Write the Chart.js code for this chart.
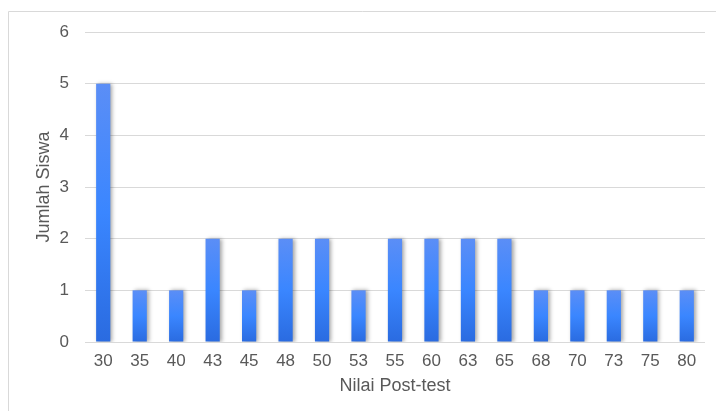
<!DOCTYPE html>
<html>
<head>
<meta charset="utf-8">
<script src="https://cdn.jsdelivr.net/npm/chart.js@4/dist/chart.umd.min.js"></script>
<style>
  html, body { margin: 0; padding: 0; background: #fff; }
  #wrap { width: 716px; height: 411px; position: relative; }
</style>
</head>
<body>
<div id="wrap"><canvas id="c" width="716" height="411"></canvas></div>
<script>
// Post-test score distribution
const categories = ['30','35','40','43','45','48','50','53','55','60','63','65','68','70','73','75','80'];
const jumlahSiswa = [5, 1, 1, 2, 1, 2, 2, 1, 2, 2, 2, 2, 1, 1, 1, 1, 1];
const yTicks = [0, 1, 2, 3, 4, 5, 6];

const FONT = 'Liberation Sans, Arial, sans-serif';
const TEXT = '#595959';
const GRID = '#d9d9d9';

// Per-bar vertical gradient: lighter at the top, deeper blue at the base
function barGradient(ctx) {
  const chart = ctx.chart;
  const y = chart.scales && chart.scales.y;
  if (!chart.chartArea || !y) return '#3a86ff';
  const top = y.getPixelForValue(ctx.raw);
  const base = y.getPixelForValue(0);
  const g = chart.ctx.createLinearGradient(0, top, 0, base);
  g.addColorStop(0, '#5b8ef6');
  g.addColorStop(0.5, '#3a86ff');
  g.addColorStop(1, '#2a6be0');
  return g;
}

// Outer frame and soft bar shadow
const framePlugin = {
  id: 'frame',
  beforeDraw(chart) {
    const c = chart.ctx;
    c.save();
    c.strokeStyle = '#d9d9d9';
    c.lineWidth = 1;
    c.beginPath();
    c.moveTo(8.5, 420);
    c.lineTo(8.5, 11.5);
    c.lineTo(730, 11.5);
    c.stroke();
    c.restore();
  },
  beforeDatasetsDraw(chart) {
    const c = chart.ctx;
    c.save();
    c.shadowColor = 'rgba(0,0,0,0.35)';
    c.shadowBlur = 4;
    c.shadowOffsetX = 2;
    c.shadowOffsetY = 0;
  },
  afterDatasetsDraw(chart) {
    chart.ctx.restore();
  }
};

new Chart(document.getElementById('c'), {
  type: 'bar',
  data: {
    labels: categories,
    datasets: [{
      label: 'Jumlah Siswa',
      data: jumlahSiswa,
      backgroundColor: barGradient,
      borderWidth: 0,
      categoryPercentage: 1,
      barPercentage: 0.39
    }]
  },
  options: {
    responsive: false,
    animation: false,
    devicePixelRatio: 1,
    layout: { padding: { left: 28, top: 32, right: 11, bottom: 0 } },
    plugins: { legend: { display: false }, tooltip: { enabled: false } },
    scales: {
      x: {
        grid: { display: false, drawTicks: false },
        border: { display: false },
        ticks: { color: TEXT, font: { family: FONT, size: 17 }, padding: 9, maxRotation: 0, autoSkip: false },
        title: { display: true, text: 'Nilai Post-test', color: TEXT, font: { family: FONT, size: 18 }, padding: { top: 0, bottom: 14 } },
        afterFit(s) { s.height = 69; }
      },
      y: {
        min: 0, max: 6,
        afterBuildTicks(s) { s.ticks = yTicks.map(v => ({ value: v })); },
        grid: { color: GRID, lineWidth: 1, drawTicks: false },
        border: { display: false },
        ticks: { color: TEXT, font: { family: FONT, size: 17 }, padding: 16 },
        title: { display: true, text: 'Jumlah Siswa', color: TEXT, font: { family: FONT, size: 18 }, padding: { top: 5, bottom: 0 } },
        afterFit(s) { s.width = 57; }
      }
    }
  },
  plugins: [framePlugin]
});
</script>
</body>
</html>
